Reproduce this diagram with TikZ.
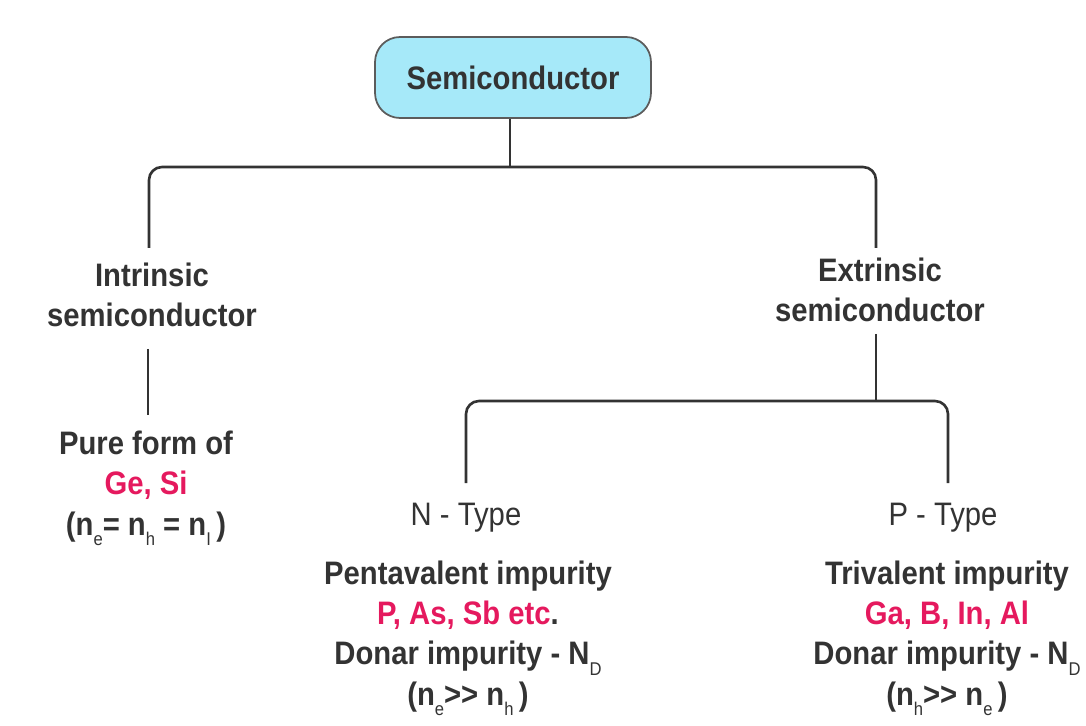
\documentclass[tikz,border=0pt]{standalone}
\usepackage{fontspec}
\setmainfont[FakeStretch=0.9]{Liberation Sans}
\definecolor{inkgray}{HTML}{333333}
\definecolor{elemred}{HTML}{E5195E}
\definecolor{boxcyan}{HTML}{A6E9F9}
\newcommand{\lowidx}[1]{\raisebox{-0.6ex}{\fontsize{10.5}{10.5}\selectfont\mdseries #1}}
\newcommand{\elem}[1]{\textcolor{elemred}{#1}}
\tikzset{
	treeline/.style={line width=1.5pt,draw=inkgray,rounded corners=0.26cm},
	plaintext/.style={font=\bfseries\fontsize{18.5}{22.8}\selectfont,text=inkgray,align=center,inner sep=0pt,anchor=base},
	typetext/.style={plaintext,font=\mdseries\fontsize{18.5}{22.8}\selectfont},
	rootbox/.style={draw=inkgray!80,line width=1pt,fill=boxcyan,rounded corners=0.5cm,
		minimum width=5.52cm,minimum height=1.62cm,font=\bfseries\fontsize{18.5}{22.8}\selectfont,text=inkgray}
}
\begin{document}
\begin{tikzpicture}[x=0.02cm,y=-0.02cm]
	\useasboundingbox (0,0) rectangle (1086,726);
	%%%%%%%%%%%%%%%%%%%
	%      root       %
	%%%%%%%%%%%%%%%%%%%
		\def\splitA{167}
		\def\splitB{401}
		\node [rootbox] (semi) at (513,77.5) {Semiconductor};
		\coordinate (topSplit) at (510,\splitA);
	%%%%%%%%%%%%%%%%%%%
	%    intrinsic    %
	%%%%%%%%%%%%%%%%%%%
		% (base = baseline of the last line)
		\node [plaintext] (intr) at (152,327) {Intrinsic\\semiconductor};
		\node [plaintext] (pure) at (146,535) {Pure form of\\\elem{Ge, Si}\\(n\lowidx{e}= n\lowidx{h} = n\lowidx{I}\,)};
		\coordinate (intrEnd) at (149,248);
		\coordinate (intrLow) at (148,349);
		\coordinate (pureTop) at (148,415);
	%%%%%%%%%%%%%%%%%%%
	%    extrinsic    %
	%%%%%%%%%%%%%%%%%%%
		\node [plaintext] (extr) at (880,322) {Extrinsic\\semiconductor};
		\coordinate (extrEnd) at (876,248);
		\coordinate (extrLow) at (876,334);
		\coordinate (botSplit) at (876,\splitB);
		% n and p type
		\node [typetext] (ntype) at (466,525) {N - Type};
		\node [typetext] (ptype) at (943,525) {P - Type};
		\coordinate (nEnd) at (466,483);
		\coordinate (pEnd) at (948,483);
		\node [plaintext] (ninfo) at (468,705) {Pentavalent impurity\\\elem{P, As, Sb etc}.\\Donar impurity - N\lowidx{D}\\(n\lowidx{e}>{}> n\lowidx{h}\,)};
		\node [plaintext] (pinfo) at (947,705) {Trivalent impurity\\\elem{Ga, B, In, Al}\\Donar impurity - N\lowidx{D}\\(n\lowidx{h}>{}> n\lowidx{e}\,)};
	%%%%%%%%%%%%%%%%%%%
	%   connectors    %
	%%%%%%%%%%%%%%%%%%%
		\draw [treeline] (semi.south -| topSplit) -- (topSplit);
		\draw [treeline] (intrEnd) |- (topSplit) -| (extrEnd);
		\draw [treeline] (intrLow) -- (pureTop);
		\draw [treeline] (extrLow) -- (botSplit);
		\draw [treeline] (nEnd) |- (botSplit) -| (pEnd);
\end{tikzpicture}
\end{document}
